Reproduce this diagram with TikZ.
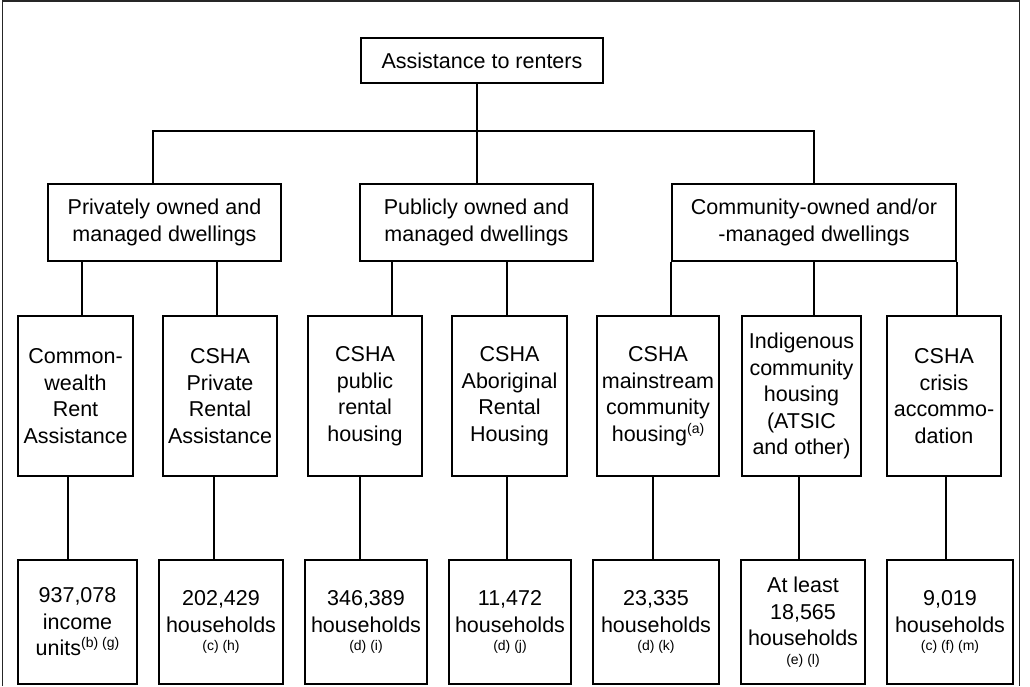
\documentclass[tikz,border=0pt]{standalone}
\usepackage{fontspec}
\setmainfont{Liberation Sans}
\usetikzlibrary{positioning}
\tikzset{
        tree box/.style={draw, line width=2pt, align=center, inner sep=0pt,
          font=\fontsize{21.5}{26.5}\selectfont},
        head box/.style={tree box, minimum width=233pt, minimum height=77pt},
        prog box/.style={tree box, minimum height=160pt},
        count box/.style={tree box, minimum height=124pt},
        link/.style={line width=2pt},
}
\newcommand{\fnote}[1]{{\fontsize{14}{16}\selectfont #1}}
\newcommand{\supnote}[1]{\raisebox{8pt}{\fontsize{14}{16}\selectfont #1}}

\begin{document}
\begin{tikzpicture}[x=1pt, y=-1pt]
      \useasboundingbox (0,0) rectangle (1030,686);
      % frame, cut off at the bottom
      \draw[line width=1.2pt, black!85] (2.5,686) -- (2.5,1) -- (1019.5,1) -- (1019.5,686);

      % TOP
      \node[tree box, minimum width=242pt, minimum height=45pt] (top) at (482,60.5) {Assistance to renters};

      % OWNERSHIP
      \node[head box] (priv) at (164.5,222.5) {Privately owned and\\managed dwellings};
      \node[head box] (pub) at (476.5,222.5) {Publicly owned and\\managed dwellings};
      \node[head box, minimum width=284pt] (comm) at (814,222.5) {Community-owned and/or\\-managed dwellings};

      % PROGRAMS
      \node[prog box, minimum width=115pt] (cra) at (75.5,396) {Common-\\wealth\\Rent\\Assistance};
      \node[prog box, minimum width=114pt] (pra) at (220,396) {CSHA\\Private\\Rental\\Assistance};
      \node[prog box, minimum width=114pt] (prh) at (365,396) {CSHA\\public\\rental\\housing};
      \node[prog box, minimum width=115pt] (arh) at (509.5,396) {CSHA\\Aboriginal\\Rental\\Housing};
      \node[prog box, minimum width=122pt] (mch) at (658,396) {CSHA\\mainstream\\community\\housing\supnote{(a)}};
      \node[prog box, minimum width=119pt] (ich) at (801.5,396) {Indigenous\\community\\housing\\(ATSIC\\and other)};
      \node[prog box, minimum width=114pt] (cri) at (944,396) {CSHA\\crisis\\accommo-\\dation};

      % COUNTS
      \node[count box, minimum width=119pt] (nrent) at (77.5,622) {937,078\\income\\units\supnote{(b) (g)}};
      \node[count box, minimum width=124pt] (npriv) at (221,622) {202,429\\households\\[-8pt]\fnote{(c) (h)}};
      \node[count box, minimum width=122pt] (npub) at (366,622) {346,389\\households\\[-8pt]\fnote{(d) (i)}};
      \node[count box, minimum width=122pt] (nabor) at (510,622) {11,472\\households\\[-8pt]\fnote{(d) (j)}};
      \node[count box, minimum width=126pt] (nmain) at (656,622) {23,335\\households\\[-8pt]\fnote{(d) (k)}};
      \node[count box, minimum width=124pt] (nind) at (803,622) {At least\\18,565\\households\\[-8pt]\fnote{(e) (l)}};
      \node[count box, minimum width=126pt] (ncris) at (950,622) {9,019\\households\\[-8pt]\fnote{(c) (f) (m)}};

      % WIRING
      % top to ownership
      \coordinate (bar) at (0,131);
      \draw[link] (pub.north |- top.south) -- (pub.north);
      \draw[link] ([xshift=-11.5pt]priv.north) |- (bar -| comm.north) -- (comm.north);
      % ownership to programs
      \draw[link] (priv.south west) ++(35,0) coordinate (pa) -- (pa |- cra.north);
      \draw[link] (priv.south east) ++(-65,0) coordinate (pb) -- (pb |- pra.north);
      \draw[link] (pub.south west) ++(33,0) coordinate (pc) -- (pc |- prh.north);
      \draw[link] (pub.south east) ++(-87,0) coordinate (pd) -- (pd |- arh.north);
      \draw[link] (comm.south west) -- (comm.south west |- mch.north);
      \draw[link] (comm.south) -- (comm.south |- ich.north);
      \draw[link] (comm.south east) -- (comm.south east |- cri.north);
      % programs to counts
      \foreach \src/\dst/\dx in {cra/nrent/-7.5, pra/npriv/-6, prh/npub/-5, arh/nabor/-2.5, mch/nmain/-5, ich/nind/-2.5, cri/ncris/2}
        \draw[link] ([xshift=\dx pt]\src.south) -- ([xshift=\dx pt]\src.south |- \dst.north);
\end{tikzpicture}
\end{document}
